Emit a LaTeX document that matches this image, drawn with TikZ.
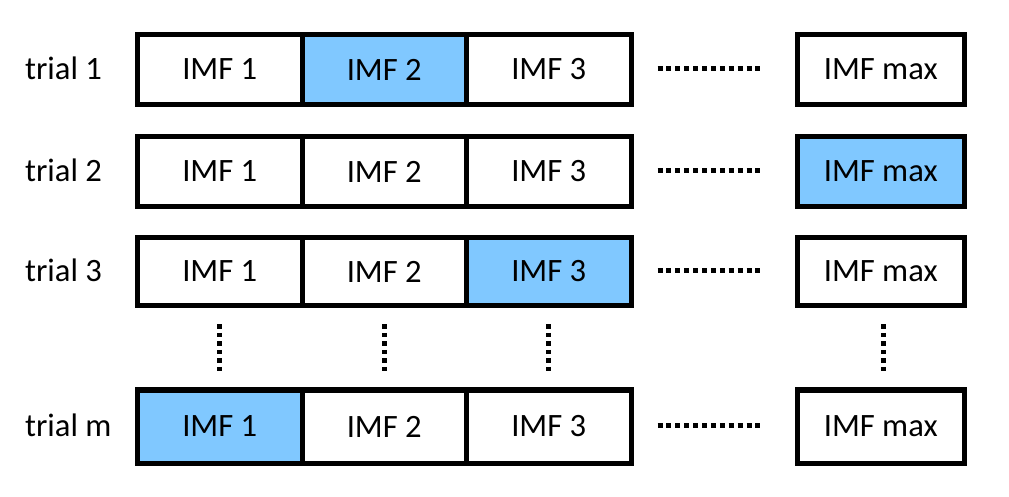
\documentclass[tikz,border=0pt]{standalone}
\usepackage{fontspec}
\setmainfont{Carlito}
\definecolor{hlblue}{RGB}{128,200,255}
\begin{document}
\begin{tikzpicture}[x=1bp,y=-1bp,
  cell/.style={draw=black, line width=5bp, fill=white, inner sep=0pt, minimum width=164.5bp,
     font=\fontsize{32.6bp}{39bp}\selectfont},
  hl/.style={fill=hlblue},
  lab/.style={anchor=base west, inner sep=0pt, font=\fontsize{32.6bp}{39bp}\selectfont},
  hdots/.style={line width=5bp, dash pattern=on 5bp off 3.9bp},
  vdots/.style={line width=4.7bp, dash pattern=on 4.5bp off 4bp}]
\useasboundingbox (0,0) rectangle (1009,497);
% row 1
\node[cell, minimum height=70bp] (a1) at (219.75,69.5) {IMF 1};
\node[cell, hl, minimum height=70bp] (a2) at (384.25,69.5) {IMF 2};
\node[cell, minimum height=70bp] (a3) at (548.75,69.5) {IMF 3};
\node[cell, minimum height=70bp, minimum width=166.5bp] (am) at (880.75,69.5) {IMF max};
% row 2
\node[cell, minimum height=70bp] (b1) at (219.75,171.5) {IMF 1};
\node[cell, minimum height=70bp] (b2) at (384.25,171.5) {IMF 2};
\node[cell, minimum height=70bp] (b3) at (548.75,171.5) {IMF 3};
\node[cell, hl, minimum height=70bp, minimum width=166.5bp] (bm) at (880.75,171.5) {IMF max};
% row 3
\node[cell, minimum height=68.5bp] (c1) at (219.75,271.5) {IMF 1};
\node[cell, minimum height=68.5bp] (c2) at (384.25,271.5) {IMF 2};
\node[cell, hl, minimum height=68.5bp] (c3) at (548.75,271.5) {IMF 3};
\node[cell, minimum height=68.5bp, minimum width=166.5bp] (cm) at (880.75,271.5) {IMF max};
% row m
\node[cell, hl, minimum height=73bp] (d1) at (219.75,426.5) {IMF 1};
\node[cell, minimum height=73bp] (d2) at (384.25,426.5) {IMF 2};
\node[cell, minimum height=73bp] (d3) at (548.75,426.5) {IMF 3};
\node[cell, minimum height=73bp, minimum width=166.5bp] (dm) at (880.75,426.5) {IMF max};
% labels
\node[lab] (l1) at (25,79.8) {trial 1};
\node[lab] (l2) at (25,181.8) {trial 2};
\node[lab] (l3) at (25,281.8) {trial 3};
\node[lab] (l4) at (25,436.8) {trial m};
% horizontal dots
\foreach \r in {a,b,c,d}{
  \draw[hdots, shorten <=24bp, shorten >=31bp] ([yshift=1bp]\r3.east) -- ([yshift=1bp]\r m.west);
}
% vertical dots
\foreach \k in {1,2,3}{
  \draw[vdots, shorten <=16bp, shorten >=16bp] (c\k.south) -- (d\k.north);
}
\draw[vdots, shorten <=16bp, shorten >=16bp] ([xshift=2.5bp]cm.south) -- ([xshift=2.5bp]dm.north);
\end{tikzpicture}
\end{document}
